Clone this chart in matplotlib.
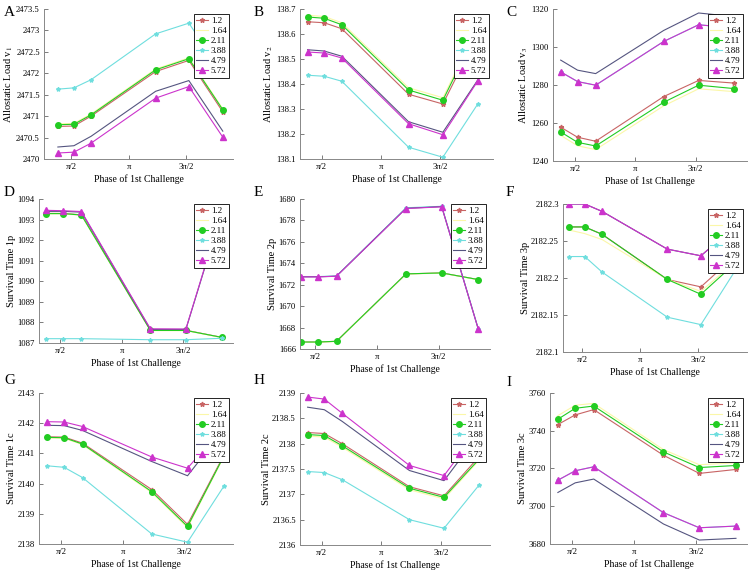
"""
Allostatic load and survival times versus phase of the 1st challenge
"""

import numpy as np
from matplotlib import pyplot as plt

plt.rcParams['font.family'] = ['Liberation Serif', 'DejaVu Serif']
plt.rcParams['mathtext.fontset'] = 'stix'

# phases of the challenge (x positions) and legend labels
phases = [1.2, 1.64, 2.11, 3.88, 4.79, 5.72]
series_labels = ['1.2', '1.64', '2.11', '3.88', '4.79', '5.72']

# one list per series, in legend order
a_vals = [[2470.76, 2470.77, 2471.00, 2472.04, 2472.30, 2471.10],
          [2470.82, 2470.83, 2471.05, 2472.10, 2472.36, 2471.17],
          [2470.80, 2470.81, 2471.03, 2472.08, 2472.34, 2471.15],
          [2471.63, 2471.66, 2471.85, 2472.92, 2473.17, 2472.00],
          [2470.28, 2470.31, 2470.53, 2471.58, 2471.83, 2470.65],
          [2470.14, 2470.16, 2470.37, 2471.42, 2471.69, 2470.51]]
b_vals = [[138.649, 138.645, 138.621, 138.359, 138.320, 138.600],
          [138.675, 138.670, 138.645, 138.385, 138.345, 138.630],
          [138.668, 138.663, 138.637, 138.376, 138.335, 138.620],
          [138.435, 138.431, 138.411, 138.147, 138.107, 138.321],
          [138.537, 138.532, 138.511, 138.249, 138.207, 138.417],
          [138.528, 138.524, 138.504, 138.241, 138.197, 138.413]]
c_vals = [[1257.8, 1252.5, 1250.4, 1273.9, 1282.4, 1281.0],
          [1253.5, 1248.0, 1246.0, 1269.0, 1278.0, 1276.5],
          [1255.3, 1249.8, 1247.9, 1270.9, 1279.9, 1278.1],
          [1286.9, 1281.8, 1279.9, 1302.9, 1311.7, 1310.0],
          [1293.1, 1287.8, 1286.0, 1308.7, 1317.9, 1316.0],
          [1286.9, 1281.8, 1279.9, 1302.9, 1311.7, 1310.0]]
d_vals = [[1093.30, 1093.30, 1093.23, 1087.62, 1087.62, 1087.27],
          [1093.28, 1093.28, 1093.21, 1087.60, 1087.60, 1087.26],
          [1093.29, 1093.29, 1093.22, 1087.61, 1087.61, 1087.27],
          [1087.21, 1087.21, 1087.21, 1087.16, 1087.16, 1087.23],
          [1093.40, 1093.40, 1093.36, 1087.66, 1087.66, 1093.40],
          [1093.45, 1093.43, 1093.39, 1087.69, 1087.68, 1093.45]]
e_vals = [[1666.65, 1666.65, 1666.72, 1673.01, 1673.10, 1672.48],
          [1666.63, 1666.63, 1666.70, 1672.99, 1673.08, 1672.46],
          [1666.65, 1666.65, 1666.72, 1673.01, 1673.10, 1672.48],
          [1672.76, 1672.76, 1672.82, 1679.18, 1679.32, 1667.90],
          [1672.74, 1672.74, 1672.80, 1679.13, 1679.29, 1667.88],
          [1672.73, 1672.73, 1672.79, 1679.11, 1679.27, 1667.87]]
f_vals = [[2182.269, 2182.269, 2182.259, 2182.198, 2182.188, 2182.230],
          [2182.265, 2182.260, 2182.252, 2182.198, 2182.182, 2182.222],
          [2182.269, 2182.269, 2182.259, 2182.198, 2182.178, 2182.220],
          [2182.229, 2182.229, 2182.208, 2182.147, 2182.137, 2182.210],
          [2182.300, 2182.300, 2182.290, 2182.239, 2182.230, 2182.270],
          [2182.300, 2182.300, 2182.290, 2182.239, 2182.230, 2182.270]]
g_vals = [[2141.55, 2141.54, 2141.34, 2139.80, 2138.65, 2140.95],
          [2141.51, 2141.50, 2141.29, 2139.70, 2138.54, 2140.90],
          [2141.53, 2141.52, 2141.31, 2139.73, 2138.58, 2140.92],
          [2140.59, 2140.54, 2140.20, 2138.33, 2138.06, 2139.92],
          [2141.93, 2141.92, 2141.76, 2140.73, 2140.26, 2141.80],
          [2142.05, 2142.04, 2141.89, 2140.88, 2140.51, 2141.90]]
h_vals = [[2138.22, 2138.20, 2138.00, 2137.15, 2136.97, 2137.75],
          [2138.15, 2138.13, 2137.93, 2137.09, 2136.91, 2137.68],
          [2138.18, 2138.16, 2137.96, 2137.12, 2136.94, 2137.70],
          [2137.45, 2137.43, 2137.29, 2136.50, 2136.33, 2137.19],
          [2138.72, 2138.67, 2138.44, 2137.47, 2137.27, 2138.20],
          [2138.92, 2138.88, 2138.60, 2137.57, 2137.37, 2138.30]]
i_vals = [[3743.3, 3748.4, 3751.2, 3727.0, 3717.4, 3719.5],
          [3748.0, 3753.5, 3754.5, 3730.0, 3722.0, 3723.0],
          [3746.1, 3751.9, 3753.1, 3728.8, 3720.5, 3721.6],
          [3713.8, 3718.8, 3720.9, 3696.6, 3688.6, 3689.5],
          [3707.3, 3712.4, 3714.4, 3690.6, 3682.1, 3683.0],
          [3713.8, 3718.8, 3720.9, 3696.6, 3688.6, 3689.5]]

panel_letters = ['A', 'B', 'C', 'D', 'E', 'F', 'G', 'H', 'I']
y_labels = ['Allostatic Load v$_1$', 'Allostatic Load v$_2$', 'Allostatic Load v$_3$',
            'Survival Time 1p', 'Survival Time 2p', 'Survival Time 3p',
            'Survival Time 1c', 'Survival Time 2c', 'Survival Time 3c']
y_ticks = [np.arange(2470, 2473.6, 0.5), np.arange(138.1, 138.71, 0.1),
           np.arange(1240, 1321, 20), np.arange(1087, 1095, 1),
           np.arange(1666, 1681, 2), np.arange(2182.1, 2182.31, 0.05),
           np.arange(2138, 2144, 1), np.arange(2136, 2139.1, 0.5),
           np.arange(3680, 3761, 20)]
y_fmt = ['%g', '%.1f', '%g', '%g', '%g', '%g', '%g', '%g', '%g']
x_ticks = [np.pi / 2, np.pi, 3 * np.pi / 2]
x_tick_labels = ['π/2', 'π', '3π/2']

# series styles: colour, marker, marker size
styles = [('#c86464', '*', 3.5),
          ('#fbf7a8', '', 0),
          ('#22cc22', 'o', 4),
          ('#6fdede', '*', 3),
          ('#555580', '', 0),
          ('#cc33cc', '^', 4)]

# axes boxes in pixels: left, right, top, bottom, xmin, xmax
W, H = 750, 573
boxes = [(44, 233, 9, 159, 0.82, 6.0), (300, 493, 9, 159, 1.0, 6.12),
         (553, 747, 9, 161, 1.0, 6.05), (39, 233, 199, 343, 1.02, 6.0),
         (300, 490, 199, 349, 1.18, 6.02), (563, 747, 204, 352, 1.05, 6.04),
         (39, 233, 393, 544, 1.0, 5.95), (300, 490, 393, 545, 1.0, 6.0),
         (550, 747, 393, 544, 1.0, 6.0)]
letter_pos = [(4, 12), (254, 12), (506, 12), (4, 192), (254, 192), (506, 192),
              (4, 380), (254, 381), (506, 383)]

all_vals = [a_vals, b_vals, c_vals, d_vals, e_vals, f_vals, g_vals, h_vals, i_vals]

fig = plt.figure(figsize=(W / 100, H / 100), dpi=100)

for k, vals in enumerate(all_vals):
    left, right, top, bottom, xmin, xmax = boxes[k]
    ax = fig.add_axes([left / W, 1 - bottom / H, (right - left) / W, (bottom - top) / H])
    for (color, marker, ms), ys, label in zip(styles, vals, series_labels):
        ax.plot(phases, ys, color=color, marker=marker, ms=ms, lw=0.8,
                mec=color, mfc=color, label=label)
    ax.set_xlim(xmin, xmax)
    yt = y_ticks[k]
    ax.set_ylim(yt[0], yt[-1])
    ax.set_yticks(yt)
    ax.set_yticklabels([y_fmt[k] % v for v in yt])
    ax.set_xticks(x_ticks)
    ax.set_xticklabels(x_tick_labels)
    ax.tick_params(direction='in', length=3, width=0.6, labelsize=6.2, pad=3,
                   color='#666666')
    for side in ['top', 'right']:
        ax.spines[side].set_visible(False)
    for side in ['left', 'bottom']:
        ax.spines[side].set_color('#888888')
        ax.spines[side].set_linewidth(0.7)
    ax.set_ylabel(y_labels[k], fontsize=7.5, labelpad=1)
    ax.set_xlabel('Phase of 1st Challenge', fontsize=7, labelpad=2.5)
    leg = ax.legend(loc='upper right', bbox_to_anchor=(0.99, 0.98), fontsize=6.5,
                    frameon=True, fancybox=False, framealpha=1, borderpad=0.3,
                    labelspacing=0.2, handlelength=1.3, handletextpad=0.3,
                    borderaxespad=0.2)
    leg.get_frame().set_edgecolor('black')
    leg.get_frame().set_linewidth(0.6)
    x0, y0 = letter_pos[k]
    fig.text(x0 / W, 1 - y0 / H, panel_letters[k], fontsize=11, va='center', ha='left')

plt.savefig('out.png', dpi=100)
